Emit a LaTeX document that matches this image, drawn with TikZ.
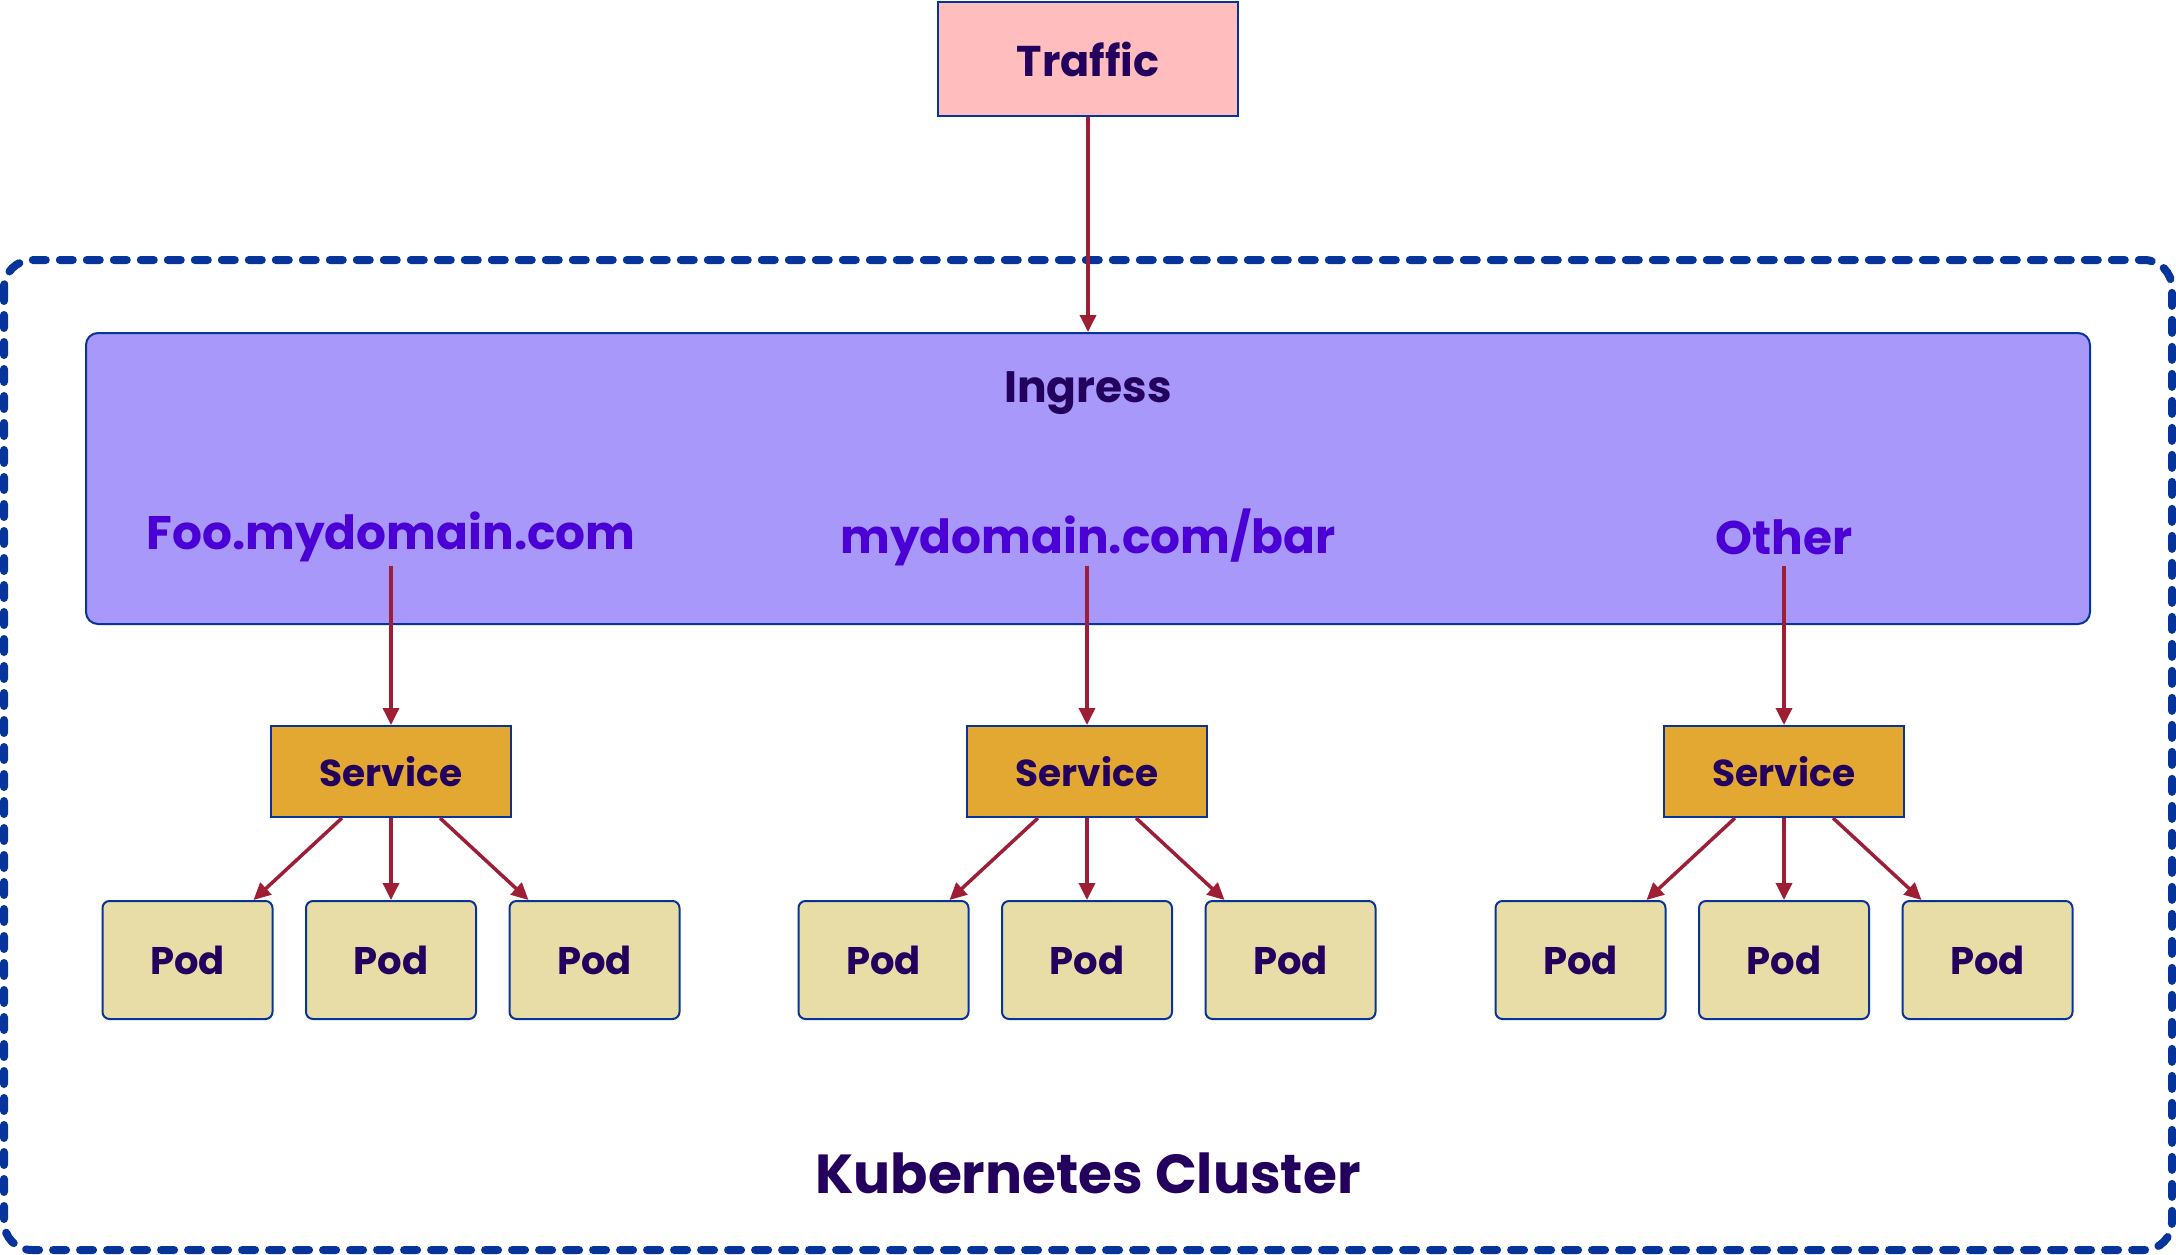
\documentclass[tikz,border=0pt]{standalone}
\usepackage{fontspec}
\setmainfont{Poppins}
\usetikzlibrary{arrows.meta,calc}
\definecolor{bordblue}{HTML}{06349B}
\definecolor{txtpurple}{HTML}{24005E}
\definecolor{dompurple}{HTML}{4B00D6}
\definecolor{trafficfill}{HTML}{FFBDBD}
\definecolor{ingressfill}{HTML}{A898FA}
\definecolor{servicefill}{HTML}{E2A832}
\definecolor{podfill}{HTML}{E9DDA7}
\definecolor{arrowred}{HTML}{9E1E35}
\tikzset{
  x=1pt,y=-1pt,
  box/.style={draw=bordblue,line width=2pt,inner sep=0pt,text=txtpurple,font=\bfseries},
  trafficbox/.style={box,fill=trafficfill,minimum width=300pt,minimum height=114pt,font=\fontsize{43}{52}\selectfont\bfseries},
  ingressbox/.style={box,fill=ingressfill,rounded corners=12pt,minimum width=2004pt,minimum height=291pt},
  servicebox/.style={box,fill=servicefill,minimum width=240pt,minimum height=91pt,font=\fontsize{37.5}{45}\selectfont\bfseries},
  podbox/.style={box,fill=podfill,rounded corners=7pt,minimum width=170pt,minimum height=118pt,font=\fontsize{38.5}{46}\selectfont\bfseries},
  domlabel/.style={text=dompurple,inner sep=0pt,font=\fontsize{47}{56}\selectfont\bfseries},
  conn/.style={draw=arrowred,line width=3.5pt,-{Triangle[length=17pt,width=16pt]}},
}
\begin{document}
\begin{tikzpicture}
\useasboundingbox (0,0) rectangle (2176,1255);
% cluster
\draw[bordblue,line width=8pt,dash pattern=on 13pt off 14pt,line cap=round,rounded corners=28pt] (4,260) rectangle (2172,1250);
\node[text=txtpurple,font=\fontsize{55}{66}\selectfont\bfseries] (cluster) at (1088,1173) {Kubernetes Cluster};
% traffic and ingress
\node[trafficbox] (traffic) at (1088,59) {Traffic};
\node[ingressbox] (ingress) at (1088,478.5) {};
\node[text=txtpurple,font=\fontsize{44}{53}\selectfont\bfseries] (ingresslbl) at (1088,393) {Ingress};
\draw[conn] (traffic.south) -- (ingress.north);
% domains
\node[domlabel] (d1) at (391,537) {Foo.mydomain.com};
\node[domlabel] (d2) at (1088,537) {mydomain.com/bar};
\node[domlabel] (d3) at (1784,537) {Other};
\coordinate (d1b) at (391,566);
\coordinate (d2b) at (1087,566);
\coordinate (d3b) at (1784,566);
% services
\foreach \i/\x in {1/391,2/1087,3/1784}{
  \node[servicebox] (s\i) at (\x,771.5) {Service};
  \node[podbox] (p\i a) at (\x-203.5,960) {Pod};
  \node[podbox] (p\i b) at (\x,960) {Pod};
  \node[podbox] (p\i c) at (\x+203.5,960) {Pod};
  \draw[conn] (d\i b) -- (s\i.north);
  \draw[conn] ($(s\i.south)+(-49,0)$) -- ($(p\i a.north)+(66,0)$);
  \draw[conn] (s\i.south) -- (p\i b.north);
  \draw[conn] ($(s\i.south)+(49,0)$) -- ($(p\i c.north)+(-66,0)$);
}
\end{tikzpicture}
\end{document}
